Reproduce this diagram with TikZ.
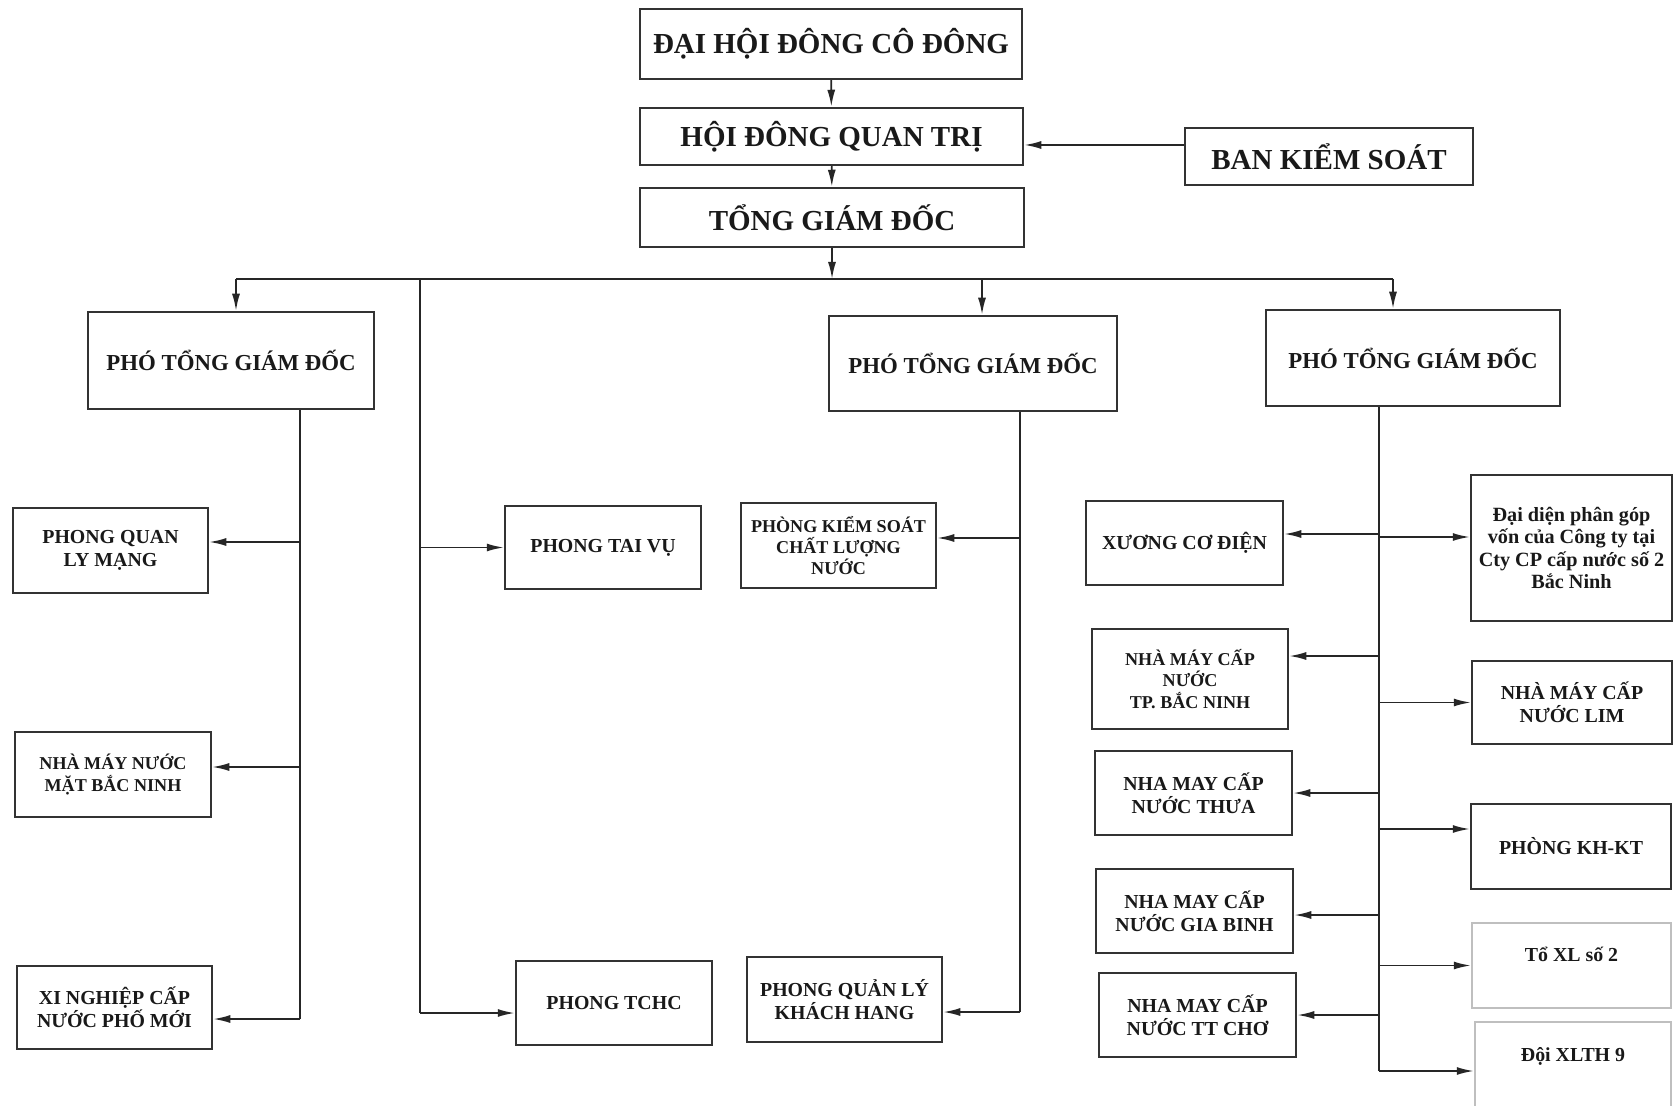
\documentclass[tikz,border=0pt]{standalone}
\usepackage{fontspec}
\setmainfont{Liberation Serif}
\usetikzlibrary{arrows.meta}

\begin{document}
\begin{tikzpicture}[x=0.2mm, y=-0.2mm,
    ink/.style={draw=black!85, line width=0.36mm},
    arr/.style={ink, -{Latex[length=3.4mm, width=1.6mm]}},
    orgbox/.style={draw=black!80, line width=0.5mm, align=center, inner sep=1pt, text=black!90},
    headbox/.style={orgbox, font=\bfseries\fontsize{16.5}{19}\selectfont},
    vpbox/.style={orgbox, minimum width=57.6mm, minimum height=19.2mm, font=\bfseries\fontsize{13}{15.6}\selectfont},
    deptbox/.style={orgbox, minimum width=39.2mm, minimum height=17mm, font=\bfseries\fontsize{11.3}{13.2}\selectfont},
    smallbox/.style={deptbox, font=\bfseries\fontsize{10.3}{12.2}\selectfont},
    faintbox/.style={deptbox, draw=black!25}]
    \path[use as bounding box, fill=white] (0,0) rectangle (1674,1106);

    \node[headbox, minimum width=76.4mm, minimum height=14mm] (dhcd) at (831,44) {ĐẠI HỘI ĐÔNG CÔ ĐÔNG};
    \node[headbox, minimum width=76.6mm, minimum height=11.4mm] (hdqt) at (831.5,136.5) {HỘI ĐÔNG QUAN TRỊ};
    \node[headbox, minimum width=76.8mm, minimum height=11.8mm] (tgd) at (832,217.5) {TỔNG GIÁM ĐỐC};
    \node[headbox, minimum width=57.6mm, minimum height=11.4mm] (bks) at (1329,156.5) {BAN KIỂM SOÁT};

    \node[vpbox, minimum width=57.2mm, minimum height=19.4mm] (ptgd1) at (231,360.5) {PHÓ TỔNG GIÁM ĐỐC};
    \node[vpbox, minimum height=19mm] (ptgd2) at (973,363.5) {PHÓ TỔNG GIÁM ĐỐC};
    \node[vpbox, minimum width=58.8mm] (ptgd3) at (1413,358) {PHÓ TỔNG GIÁM ĐỐC};

    \node[deptbox, minimum width=39mm] (pqlm) at (110.5,550.5) {PHONG QUAN\\LY MẠNG};
    \node[smallbox] (nmmat) at (113,774.5) {NHÀ MÁY NƯỚC\\MẶT BẮC NINH};
    \node[deptbox, minimum width=39mm, minimum height=16.6mm] (xnpm) at (114.5,1007.5) {XI NGHIỆP CẤP\\NƯỚC PHỐ MỚI};
    \node[deptbox, minimum height=16.6mm] (ptv) at (603,547.5) {PHONG TAI VỤ};
    \node[deptbox, minimum height=16.8mm] (tchc) at (614,1003) {PHONG TCHC};
    \node[smallbox, minimum width=39mm] (pkscl) at (838.5,545.5) {PHÒNG KIỂM SOÁT\\CHẤT LƯỢNG\\NƯỚC};
    \node[deptbox, minimum width=39mm] (pqlkh) at (844.5,999.5) {PHONG QUẢN LÝ\\KHÁCH HANG};

    \node[deptbox, minimum width=39.4mm, minimum height=16.8mm] (xuong) at (1184.5,543) {XƯƠNG CƠ ĐIỆN};
    \node[smallbox, minimum height=20mm] (tpbn) at (1190,679) {NHÀ MÁY CẤP\\NƯỚC\\TP. BẮC NINH};
    \node[deptbox, minimum width=39.4mm, minimum height=16.8mm] (thua) at (1193.5,793) {NHA MAY CẤP\\NƯỚC THƯA};
    \node[deptbox, minimum width=39.4mm, minimum height=16.8mm] (giabinh) at (1194.5,911) {NHA MAY CẤP\\NƯỚC GIA BINH};
    \node[deptbox, minimum width=39.4mm, minimum height=16.8mm] (ttcho) at (1197.5,1015) {NHA MAY CẤP\\NƯỚC TT CHƠ};

    \node[deptbox, minimum width=40.2mm, minimum height=29.2mm, font=\bfseries\fontsize{11.5}{12.6}\selectfont] (daidien) at (1571.5,548) {Đại diện phân góp\\vốn của Công ty tại\\Cty CP cấp nước số 2\\Bắc Ninh};
    \node[deptbox, minimum width=40mm, minimum height=16.6mm] (lim) at (1572,702.5) {NHÀ MÁY CẤP\\NƯỚC LIM};
    \node[deptbox, minimum width=40mm] (khkt) at (1571,846.5) {PHÒNG KH-KT};
    \node[faintbox, minimum width=39.8mm] (toxl) at (1571.5,965.5) {Tổ XL số 2\\~};
    \node[faintbox, minimum height=17.6mm] (doi) at (1573,1066) {Đội XLTH 9\\~};

    \coordinate (bl) at (236,279);
    \coordinate (bm) at (982,279);
    \coordinate (br) at (1393,279);
    \coordinate (bksin) at ([yshift=2.3mm]bks.west);
    \coordinate (s0t) at (420,279);
    \coordinate (s0b) at (420,1013);
    \coordinate (s1b) at (300,1019);
    \coordinate (s2b) at (1020,1012);
    \coordinate (s3b) at (1379,1071);

    \draw[arr] (dhcd) -- (hdqt);
    \draw[arr] (hdqt) -- (tgd);
    \draw[arr] (bksin) -- (bksin -| hdqt.east);
    \draw[arr] (tgd) -- (tgd.south |- bl);
    \draw[ink] (bl) -- (br);
    \draw[arr] (bl) -- (bl |- ptgd1.north);
    \draw[arr] (bm) -- (bm |- ptgd2.north);
    \draw[arr] (br) -- (br |- ptgd3.north);

    \draw[ink] (s0t) -- (s0b);
    \draw[arr] (s0t |- ptv.west) -- (ptv.west);
    \draw[arr] (s0b) -- (s0b -| tchc.west);

    \draw[ink] (s1b |- ptgd1.south) -- (s1b);
    \draw[arr] ([yshift=1.7mm]pqlm.east -| s1b) -- ([yshift=1.7mm]pqlm.east);
    \draw[arr] ([yshift=1.5mm]nmmat.east -| s1b) -- ([yshift=1.5mm]nmmat.east);
    \draw[arr] (s1b) -- (s1b -| xnpm.east);

    \draw[ink] (s2b |- ptgd2.south) -- (s2b);
    \draw[arr] ([yshift=1.5mm]pkscl.east -| s2b) -- ([yshift=1.5mm]pkscl.east);
    \draw[arr] (s2b) -- (s2b -| pqlkh.east);

    \draw[ink] (s3b |- ptgd3.south) -- (s3b);
    \draw[arr] ([yshift=1.8mm]xuong.east -| s3b) -- ([yshift=1.8mm]xuong.east);
    \draw[arr] ([yshift=4.6mm]tpbn.east -| s3b) -- ([yshift=4.6mm]tpbn.east);
    \draw[arr] (s3b |- thua.east) -- (thua.east);
    \draw[arr] ([yshift=-0.8mm]giabinh.east -| s3b) -- ([yshift=-0.8mm]giabinh.east);
    \draw[arr] (s3b |- ttcho.east) -- (ttcho.east);
    \draw[arr] ([yshift=2.2mm]daidien.west -| s3b) -- ([yshift=2.2mm]daidien.west);
    \draw[arr] (s3b |- lim.west) -- (lim.west);
    \draw[arr] ([yshift=3.5mm]khkt.west -| s3b) -- ([yshift=3.5mm]khkt.west);
    \draw[arr] (s3b |- toxl.west) -- (toxl.west);
    \draw[arr] (s3b) -- (s3b -| doi.west);
\end{tikzpicture}
\end{document}
